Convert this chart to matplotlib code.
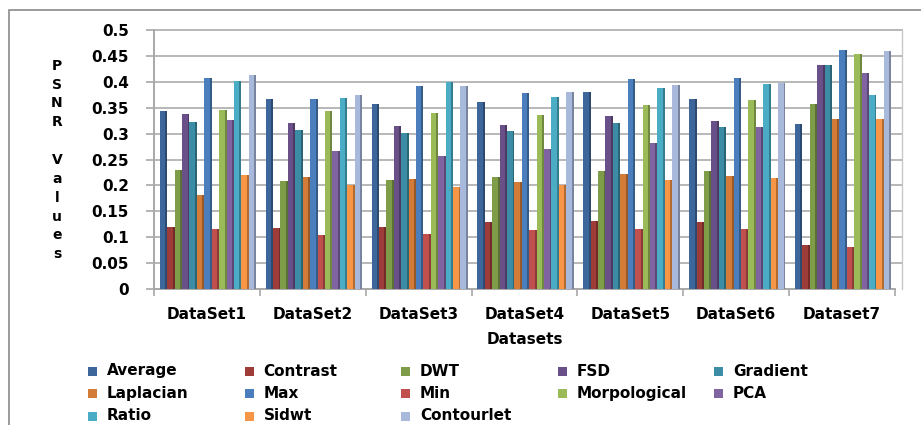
import numpy as np
import matplotlib.pyplot as plt
from matplotlib.patches import Rectangle
from matplotlib.colors import to_rgb

datasets = ["DataSet1", "DataSet2", "DataSet3", "DataSet4", "DataSet5", "DataSet6", "Dataset7"]
methods = ["Average", "Contrast", "DWT", "FSD", "Gradient",
           "Laplacian", "Max", "Min", "Morpological", "PCA",
           "Ratio", "Sidwt", "Contourlet"]

# PSNR per method, one list per method across the seven datasets
average     = [0.344, 0.366, 0.357, 0.361, 0.381, 0.367, 0.318]
contrast    = [0.120, 0.118, 0.120, 0.129, 0.131, 0.130, 0.085]
dwt         = [0.229, 0.208, 0.210, 0.216, 0.227, 0.228, 0.358]
fsd         = [0.337, 0.320, 0.315, 0.316, 0.334, 0.325, 0.433]
gradient    = [0.322, 0.306, 0.301, 0.305, 0.320, 0.313, 0.433]
laplacian   = [0.182, 0.216, 0.212, 0.206, 0.222, 0.219, 0.329]
max_        = [0.408, 0.366, 0.392, 0.378, 0.405, 0.408, 0.462]
min_        = [0.116, 0.105, 0.107, 0.113, 0.116, 0.115, 0.082]
morpho      = [0.345, 0.344, 0.340, 0.336, 0.355, 0.365, 0.453]
pca         = [0.327, 0.267, 0.257, 0.270, 0.281, 0.313, 0.417]
ratio       = [0.401, 0.369, 0.400, 0.370, 0.388, 0.395, 0.374]
sidwt       = [0.220, 0.200, 0.197, 0.200, 0.211, 0.215, 0.329]
contourlet  = [0.414, 0.374, 0.392, 0.380, 0.394, 0.398, 0.459]

series = [average, contrast, dwt, fsd, gradient, laplacian, max_, min_,
          morpho, pca, ratio, sidwt, contourlet]

colors = ["#3D679A", "#9E3C39", "#7F9C49", "#6A5088", "#3B8CA4", "#D27C37",
          "#4A7EBC", "#C0504D", "#9BBB59", "#8064A2", "#4BACC6", "#F79646",
          "#A8B9DC"]

BOLD = dict(fontweight="bold", family="DejaVu Sans")
FS = 11


def darker(c, f=0.72):
    r, g, b = to_rgb(c)
    return (r * f, g * f, b * f)


fig = plt.figure(figsize=(9.21, 4.25), dpi=100)
ax = fig.add_axes([154 / 921, 1 - 289 / 425, 741 / 921, 259 / 425])

# outer chart frame
fig.add_artist(Rectangle((9 / 921, -0.1), 1.2, 0.1 + 1 - 10 / 425,
                         transform=fig.transFigure, fill=False,
                         edgecolor="#8a8a8a", lw=1.2))

n = len(series)
x = np.arange(len(datasets))
slot = 0.91 / n
front = slot * 0.74
for i, (vals, col) in enumerate(zip(series, colors)):
    left = x - 0.455 + i * slot + 0.01
    ax.bar(left, vals, width=front, align="edge", color=col, lw=0, zorder=3)
    ax.bar(left + front, vals, width=slot - front, align="edge",
           color=darker(col), lw=0, zorder=3)

ax.set_xlim(-0.5, 6.5)
ax.set_ylim(0, 0.5)
yt = np.arange(0, 0.501, 0.05)
ax.set_yticks(yt)
ax.set_yticklabels(["0" if v == 0 else f"{v:.2f}".rstrip("0") for v in yt],
                   fontsize=FS, **BOLD)

# back-wall gridlines, pushed slightly past the plot edge
for v in yt[1:]:
    ax.plot([-0.48, 6.57], [v, v], color="#b8b8b8", lw=1.4,
            clip_on=False, zorder=1)
ax.plot([6.57, 6.57], [0, 0.5], color="#c8c8c8", lw=1.0, clip_on=False, zorder=1)

for s in ["top", "right"]:
    ax.spines[s].set_visible(False)
for s in ["left", "bottom"]:
    ax.spines[s].set_color("#a8a8a8")
    ax.spines[s].set_linewidth(1.4)

ax.set_xticks(x)
ax.set_xticklabels(datasets, fontsize=FS, **BOLD)
ax.set_xticks(np.arange(-0.5, 6.6, 1), minor=True)
ax.tick_params(axis="x", which="major", length=0, pad=13)
ax.tick_params(axis="x", which="minor", length=5, color="#a8a8a8", width=1.2)
ax.tick_params(axis="y", length=6, color="#a8a8a8", width=1.2, pad=12)

ax.set_xlabel("Datasets", fontsize=FS, labelpad=7, **BOLD)
fig.text(57 / 921, 1 - 160 / 425, "P\nS\nN\nR\n\nV\na\nl\nu\ne\ns",
         ha="center", va="center", fontsize=FS - 1, linespacing=1.44, **BOLD)

# legend, five evenly spaced columns in row order
for i, (name, col) in enumerate(zip(methods, colors)):
    r, c = divmod(i, 5)
    cx = 93 + c * 156.5
    cy = 371 + r * 22.5
    fig.add_artist(Rectangle(((cx - 5) / 921, 1 - (cy + 4.5) / 425), 9 / 921, 9 / 425,
                             transform=fig.transFigure, color=col, lw=0))
    fig.text((cx + 14) / 921, 1 - cy / 425, name, ha="left", va="center",
             fontsize=FS, **BOLD)

fig.savefig("out.png", dpi=100)
